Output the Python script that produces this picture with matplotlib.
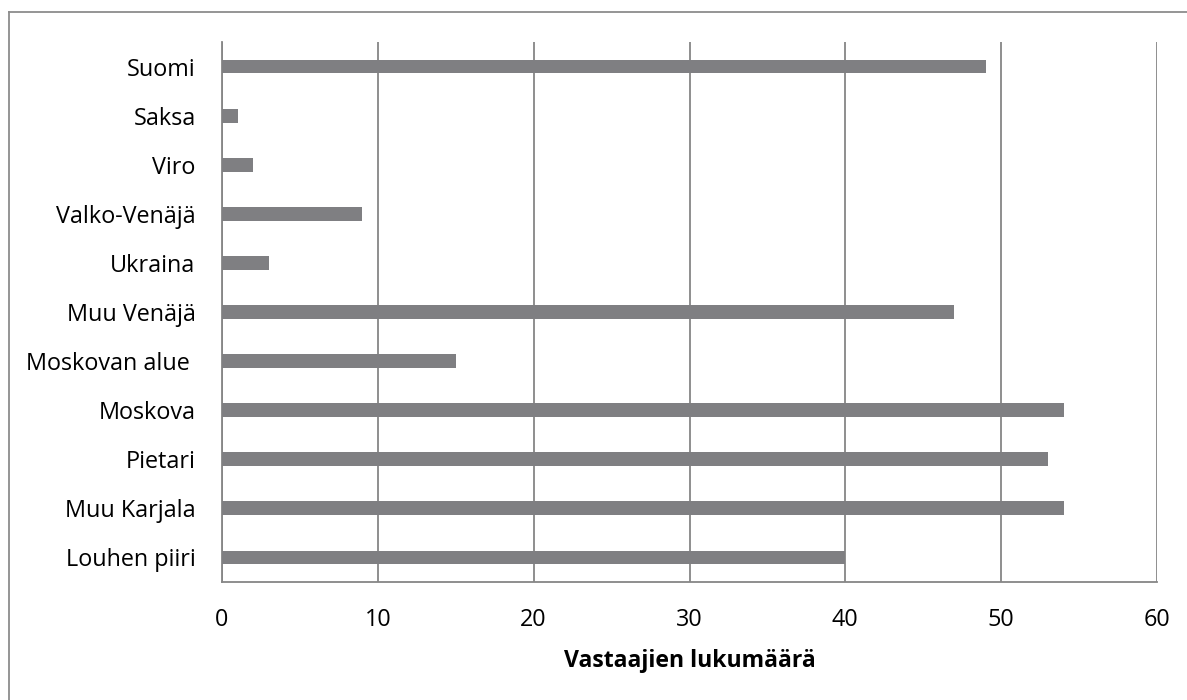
import matplotlib
matplotlib.use("Agg")
import matplotlib.pyplot as plt
from matplotlib.lines import Line2D

categories = ["Louhen piiri", "Muu Karjala", "Pietari", "Moskova", "Moskovan alue ",
              "Muu Venäjä", "Ukraina", "Valko-Venäjä", "Viro", "Saksa", "Suomi"]
values = [40, 54, 53, 54, 15, 47, 3, 9, 2, 1, 49]
xticks = [0, 10, 20, 30, 40, 50, 60]
xlabel = "Vastaajien lukumäärä"

plt.rcParams['font.family'] = ['Open Sans', 'DejaVu Sans']

W, H = 1187, 700
fig = plt.figure(figsize=(W / 100, H / 100), dpi=100)
ax = fig.add_axes([222 / W, 1 - 582 / H, (1157 - 222) / W, (582 - 42) / H])

grid_col = "#868686"
bar_col = "#7f7f82"

ax.barh(range(len(categories)), values, height=0.28, color=bar_col, zorder=3)
ax.set_ylim(-0.5, len(categories) - 0.5)
ax.set_xlim(0, 60)
ax.set_xticks(xticks)
ax.set_xticklabels([str(t) for t in xticks])
ax.set_yticks(range(len(categories)))
ax.set_yticklabels(categories)
ax.xaxis.grid(True, color=grid_col, linewidth=1.3, zorder=0)
ax.tick_params(axis='both', length=0, labelsize=16.8, colors="black")
ax.tick_params(axis='x', pad=19)
ax.tick_params(axis='y', pad=19)
for s in ["top", "right"]:
    ax.spines[s].set_visible(False)
for s in ["left", "bottom"]:
    ax.spines[s].set_color(grid_col)
    ax.spines[s].set_linewidth(1.3)
ax.set_xlabel(xlabel, fontsize=16.6, fontweight='bold', labelpad=12)

# outer chart border (top and left visible)
fig.add_artist(Line2D([9 / W, 9 / W], [0, 1 - 12 / H], transform=fig.transFigure,
                      color="#8c8c8c", linewidth=1.3))
fig.add_artist(Line2D([9 / W, 1], [1 - 12 / H, 1 - 12 / H], transform=fig.transFigure,
                      color="#8c8c8c", linewidth=1.3))

fig.savefig("out.png", dpi=100)
